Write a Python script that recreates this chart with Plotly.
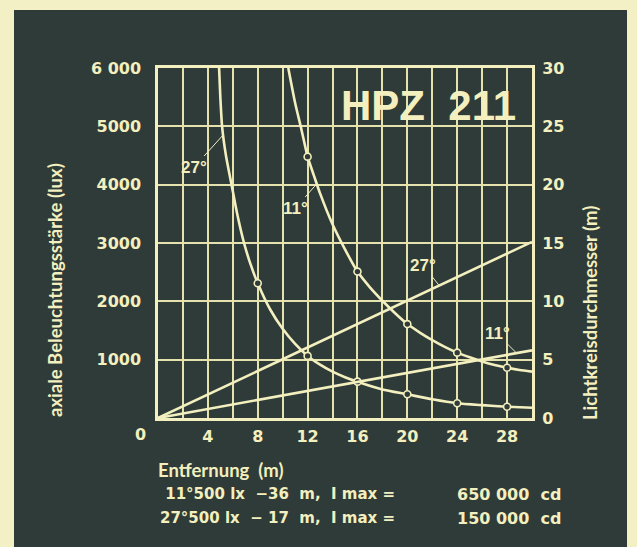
import plotly.graph_objects as go

# ---------------- data ----------------
dist_11 = [10.45, 11, 11.5, 12, 12.5, 13, 14, 15, 16, 17, 18, 19, 20, 21, 22, 23, 24, 25, 26, 27, 28, 29, 30]
lux_11 = [6000, 5400, 4950, 4480, 4160, 3850, 3320, 2890, 2510, 2240, 2010, 1800, 1610, 1465, 1335, 1220, 1120, 1040, 970, 910, 862, 822, 795]

dist_27 = [4.9, 5.0, 5.14, 5.45, 5.9, 6.35, 6.9, 7.4, 8, 9, 10, 11, 12, 13, 14, 15, 16, 18, 20, 22, 24, 26, 28, 30]
lux_27 = [6000, 5500, 5000, 4500, 4000, 3500, 3000, 2650, 2310, 1860, 1530, 1270, 1065, 915, 795, 700, 623, 490, 406, 320, 252, 220, 194, 177]

mark_x_11 = [12, 16, 20, 24, 28]
mark_y_11 = [4480, 2510, 1610, 1120, 862]
mark_x_27 = [8, 12, 16, 20, 24, 28]
mark_y_27 = [2310, 1065, 623, 406, 252, 194]

dist_line = [0, 30]
diam_27 = [0, 15.1]
diam_11 = [0, 5.8]

x_ticks = [0, 2, 4, 6, 8, 10, 12, 14, 16, 18, 20, 22, 24, 26, 28, 30]
x_tick_text = ["", "", "4", "", "8", "", "12", "", "16", "", "20", "", "24", "", "28", ""]
y_ticks = [0, 1000, 2000, 3000, 4000, 5000, 6000]
y_tick_text = ["", "1000", "2000", "3000", "4000", "5000", "6 000"]
y2_ticks = [0, 5, 10, 15, 20, 25, 30]
y2_tick_text = ["0", "5", "10", "15", "20", "25", "30"]

# ---------------- style ----------------
W, H = 637, 547
L, R, T, B = 158, 105, 68, 129
PW, PH = W - L - R, H - T - B
BG = "#2e3b39"
PALE = "#f4f0c6"
INK = "#f3efbe"
GRID = "#e6e2ad"

def px(xp):
    return (xp - L) / PW

def py(yp):
    return (H - B - yp) / PH

NUM = dict(family="DejaVu Sans", size=16, color=INK, weight="bold")
TXT = dict(family="Lato", size=18.5, color=INK, weight="bold")

fig = go.Figure()

line_style = dict(color=INK, width=2.6)
fig.add_trace(go.Scatter(x=dist_27, y=lux_27, mode="lines", line=dict(shape="spline", smoothing=0.6, **line_style), hoverinfo="skip"))
fig.add_trace(go.Scatter(x=dist_11, y=lux_11, mode="lines", line=dict(shape="spline", smoothing=0.6, **line_style), hoverinfo="skip"))
fig.add_trace(go.Scatter(x=dist_line, y=diam_27, mode="lines", line=line_style, yaxis="y2", hoverinfo="skip"))
fig.add_trace(go.Scatter(x=dist_line, y=diam_11, mode="lines", line=line_style, yaxis="y2", hoverinfo="skip"))
mk = dict(size=7, color=BG, line=dict(color=INK, width=1.6))
fig.add_trace(go.Scatter(x=mark_x_27, y=mark_y_27, mode="markers", marker=mk, hoverinfo="skip"))
fig.add_trace(go.Scatter(x=mark_x_11, y=mark_y_11, mode="markers", marker=mk, hoverinfo="skip"))

axis_common = dict(showline=True, linecolor=INK, linewidth=2.5, mirror=True, zeroline=False,
                   ticks="outside", tickcolor="rgba(0,0,0,0)")

fig.update_layout(
    width=W, height=H,
    margin=dict(l=L, r=R, t=T, b=B),
    paper_bgcolor=BG, plot_bgcolor=BG,
    showlegend=False,
    xaxis=dict(range=[0, 30], tickvals=x_ticks, ticktext=x_tick_text, showgrid=True,
               gridcolor=GRID, gridwidth=1.5, ticklen=2, tickfont=NUM, **axis_common),
    yaxis=dict(range=[0, 6000], tickvals=y_ticks, ticktext=y_tick_text, showgrid=True,
               gridcolor=GRID, gridwidth=1.5, ticklen=11, tickfont=NUM, **axis_common),
    yaxis2=dict(range=[0, 30], tickvals=y2_ticks, ticktext=y2_tick_text, overlaying="y", side="right",
                showgrid=False, ticklen=6, tickfont=NUM, showline=False, zeroline=False,
                ticks="outside", tickcolor="rgba(0,0,0,0)"),
)

def note(xp, yp, text, font, xa="center", ya="middle", **kw):
    return dict(x=px(xp), y=py(yp), xref="paper", yref="paper", text=text, showarrow=False,
                font=font, xanchor=xa, yanchor=ya, **kw)

ann = []
ann.append(note(140, 435, "0", NUM))
ann.append(note(428, 105, "HPZ  211",
                dict(family="Liberation Sans", size=42, color=INK, weight="bold")))
ann.append(note(55, 290, "axiale Beleuchtungsstärke (lux)", TXT, textangle=-90))
ann.append(note(590, 313, "Lichtkreisdurchmesser (m)", TXT, textangle=-90))
ann.append(note(156, 470, "Entfernung  (m)", TXT, xa="left"))
low = dict(family="DejaVu Sans", size=15, color=INK, weight="bold")
low2 = dict(family="DejaVu Sans", size=16, color=INK, weight="bold")
ann.append(note(158, 494, " 11°500 lx  −36  m,  I max =", low, xa="left"))
ann.append(note(563, 494, "650 000  cd", low2, xa="right"))
ann.append(note(158, 518, "27°500 lx  − 17  m,  I max =", low, xa="left"))
ann.append(note(563, 518, "150 000  cd", low2, xa="right"))

# curve labels with leader lines
lab = dict(family="Liberation Sans", size=17, color=INK, weight="bold")
lead = dict(showarrow=True, arrowhead=0, arrowwidth=1, arrowcolor=INK, font=lab, standoff=0)
ann.append(dict(x=5.15, y=4834, xref="x", yref="y", text="27°", ax=-28, ay=31, **lead))
ann.append(dict(x=12.72, y=4011, xref="x", yref="y", text="11°", ax=-21, ay=24, **lead))
ann.append(dict(x=22.56, y=11.35, xref="x", yref="y2", text="27°", ax=-16, ay=-20, **lead))
ann.append(dict(x=28.8, y=5.52, xref="x", yref="y2", text="11°", ax=-20, ay=-20, **lead))
fig.update_layout(annotations=ann)

# pale paper edges around the dark panel
shp = [
    dict(type="rect", xref="paper", yref="paper", x0=px(0), x1=px(14), y0=py(H), y1=py(0),
         fillcolor=PALE, line=dict(width=0), layer="above"),
    dict(type="rect", xref="paper", yref="paper", x0=px(0), x1=px(W), y0=py(10), y1=py(0),
         fillcolor=PALE, line=dict(width=0), layer="above"),
    dict(type="rect", xref="paper", yref="paper", x0=px(627), x1=px(W), y0=py(H), y1=py(0),
         fillcolor=PALE, line=dict(width=0), layer="above"),
]
fig.update_layout(shapes=shp)

fig.write_html("out.html", config={"displayModeBar": False},
               post_script="document.body.style.margin='0px';")
